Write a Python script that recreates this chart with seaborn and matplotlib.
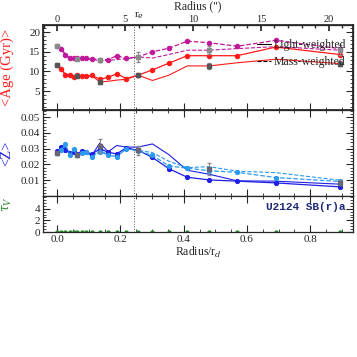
import numpy as np
import pandas as pd
import seaborn as sns
import matplotlib
matplotlib.use("Agg")
import matplotlib.pyplot as plt
from matplotlib.ticker import MultipleLocator, FixedLocator

# radial bins (r / r_d)
radius = [0.0, 0.013, 0.026, 0.039, 0.052, 0.064, 0.077, 0.090, 0.110, 0.135, 0.161,
          0.188, 0.218, 0.256, 0.301, 0.353, 0.411, 0.480, 0.569, 0.691, 0.893]

age_lw = [11.7, 10.7, 9.0, 9.2, 8.6, 9.0, 8.8, 8.8, 9.0, 8.0, 8.5,
          9.4, 8.2, 9.05, 10.4, 12.1, 14.0, 14.0, 14.0, 16.2, 14.3]
age_mw = [16.5, 15.8, 14.3, 13.4, 13.4, 13.4, 13.4, 13.4, 13.2, 13.0, 13.0,
          14.0, 13.3, 13.7, 15.0, 15.9, 17.7, 17.3, 16.4, 17.9, 15.8]
age_lw_alt = [11.7, 10.5, 9.3, 8.9, 8.8, 8.9, 8.7, 8.7, 8.9, 7.3, 7.5,
              7.8, 8.0, 9.05, 7.7, 9.05, 11.4, 11.4, 12.2, 13.1, 12.0]
age_mw_alt = [16.4, 15.6, 14.1, 13.3, 13.3, 13.2, 13.2, 13.2, 13.0, 12.8, 12.8,
              13.0, 13.2, 13.7, 13.4, 14.3, 15.4, 15.4, 15.8, 16.3, 15.4]

z_lw = [0.0283, 0.0308, 0.029, 0.0273, 0.028, 0.0269, 0.0283, 0.028, 0.0265, 0.030, 0.0277,
        0.0267, 0.0305, 0.029, 0.0244, 0.0173, 0.0119, 0.0102, 0.0094, 0.0083, 0.0058]
z_mw = [0.027, 0.029, 0.0327, 0.026, 0.0295, 0.026, 0.0275, 0.0278, 0.025, 0.028, 0.026,
        0.0248, 0.030, 0.0285, 0.0258, 0.019, 0.0177, 0.016, 0.015, 0.0117, 0.0092]
z_lw_alt = [0.028, 0.030, 0.031, 0.027, 0.028, 0.027, 0.028, 0.028, 0.026, 0.0336, 0.028,
            0.032, 0.031, 0.031, 0.033, 0.0262, 0.0163, 0.0138, 0.0096, 0.0094, 0.0075]
z_mw_alt = [0.027, 0.029, 0.031, 0.027, 0.029, 0.026, 0.028, 0.028, 0.025, 0.029, 0.026,
            0.025, 0.030, 0.029, 0.0275, 0.022, 0.018, 0.0186, 0.0157, 0.0148, 0.010]

tau_v = [0.0] * len(radius)

# points with error estimates
err_idx = [0, 5, 9, 13, 17, 20]
age_lw_err = [0.3, 0.3, 0.4, 0.4, 0.7, 0.6]
age_mw_err = [0.3, 0.3, 0.3, 1.3, 1.0, 1.2]
z_err_val = [0.027, 0.026, 0.0318, 0.029, 0.017, 0.0085]
z_err = [0.001, 0.001, 0.0043, 0.003, 0.004, 0.0015]

r_d_arcsec = 23.3
r_e = 0.244

df = pd.DataFrame({"r": radius, "age_lw": age_lw, "age_mw": age_mw,
                   "age_lw_alt": age_lw_alt, "age_mw_alt": age_mw_alt,
                   "z_lw": z_lw, "z_mw": z_mw, "z_lw_alt": z_lw_alt,
                   "z_mw_alt": z_mw_alt, "tau_v": tau_v})

sns.set_theme(style="ticks")
plt.rcParams['font.family'] = ['Liberation Serif', 'DejaVu Serif']
plt.rcParams['mathtext.fontset'] = 'dejavuserif'

RED = '#ff1a1a'
MAG = '#c0189a'
BLUE = '#1f1fe6'
LBLUE = '#2b9af0'
GREEN = '#2a8a2a'
GREY = '#8a8a8a'

fig = plt.figure(figsize=(3.57, 3.57), dpi=100)
left, width = 43 / 357, 310 / 357
ax1 = fig.add_axes([left, 1 - 110 / 357, width, 85 / 357])
ax2 = fig.add_axes([left, 1 - 196 / 357, width, 86 / 357])
ax3 = fig.add_axes([left, 1 - 232 / 357, width, 36 / 357])

# --- age panel
sns.lineplot(data=df, x="r", y="age_lw_alt", ax=ax1, color=RED, lw=0.8, errorbar=None)
sns.lineplot(data=df, x="r", y="age_mw_alt", ax=ax1, color=MAG, lw=0.8, ls='--', errorbar=None)
sns.lineplot(data=df, x="r", y="age_lw", ax=ax1, color=RED, lw=0.9, marker='o', ms=3.2,
             mec=RED, errorbar=None)
sns.lineplot(data=df, x="r", y="age_mw", ax=ax1, color=MAG, lw=0.9, ls='--', marker='o',
             ms=3.2, mec=MAG, errorbar=None)
r_err = [radius[i] for i in err_idx]
ax1.errorbar(r_err, [age_lw_alt[i] for i in err_idx], yerr=age_lw_err, fmt='s', ms=3,
             color='#555555', ecolor=GREY, capsize=1.5, lw=0.7)
ax1.errorbar(r_err, [age_mw_alt[i] for i in err_idx], yerr=age_mw_err, fmt='s', ms=3,
             color=GREY, ecolor=GREY, capsize=1.5, lw=0.7)
ax1.set_ylim(0.2, 21.8)
ax1.yaxis.set_major_locator(FixedLocator([5, 10, 15, 20]))
ax1.yaxis.set_minor_locator(MultipleLocator(1))
ax1.set_ylabel(r"<Age (Gyr)>", color=RED, fontsize=10.5)
ax1.plot([], [], color='black', lw=0.8, label='Light-weighted')
ax1.plot([], [], color='black', lw=0.8, ls='--', label='Mass-weighted')
ax1.legend(loc='upper right', frameon=False, fontsize=8.5, handlelength=1.2,
           handletextpad=0.2, borderaxespad=0.2, labelspacing=0.45,
           bbox_to_anchor=(1.0, 0.92))

# top arcsec axis
top = ax1.twiny()
arcsec_ticks = [0, 5, 10, 15, 20]
top.set_xticks([a / r_d_arcsec for a in arcsec_ticks])
top.set_xticklabels([str(a) for a in arcsec_ticks])
top.xaxis.set_minor_locator(MultipleLocator(1 / r_d_arcsec))
top.set_xlabel("Radius ('')", fontsize=8.5, va='bottom')
top.xaxis.set_label_coords(0.5, 1.15)
top.tick_params(axis='x', which='both', direction='in', labelsize=7.5, pad=1)
top.tick_params(axis='x', which='major', length=4)
top.tick_params(axis='x', which='minor', length=2)

# --- metallicity panel
sns.lineplot(data=df, x="r", y="z_lw_alt", ax=ax2, color=BLUE, lw=0.8, errorbar=None)
sns.lineplot(data=df, x="r", y="z_mw_alt", ax=ax2, color=LBLUE, lw=0.8, ls='--', errorbar=None)
sns.lineplot(data=df, x="r", y="z_lw", ax=ax2, color=BLUE, lw=0.9, marker='o', ms=3,
             mec=BLUE, errorbar=None)
sns.lineplot(data=df, x="r", y="z_mw", ax=ax2, color=LBLUE, lw=0.9, ls='--', marker='o',
             ms=3, mec=LBLUE, errorbar=None)
ax2.errorbar(r_err, z_err_val, yerr=z_err, fmt='s', ms=2.8, color='#666677',
             ecolor=GREY, capsize=1.5, lw=0.7)
ax2.set_ylim(0.0, 0.0545)
ax2.yaxis.set_major_locator(FixedLocator([0.01, 0.02, 0.03, 0.04, 0.05]))
ax2.yaxis.set_minor_locator(MultipleLocator(0.002))
ax2.set_ylabel("<Z>", color=BLUE, fontsize=10.5)

# --- extinction panel
sns.scatterplot(data=df, x="r", y="tau_v", ax=ax3, color=GREEN, s=10, edgecolor=GREEN,
                linewidth=0)
ax3.set_ylim(0, 6.2)
ax3.yaxis.set_major_locator(FixedLocator([0, 2, 4]))
ax3.yaxis.set_minor_locator(MultipleLocator(0.5))
ax3.set_ylabel(r"$\tau_V$", color=GREEN, fontsize=9)
ax3.yaxis.set_label_coords(-0.095, 0.78)
ax3.set_xlabel("Radius/r$_d$", fontsize=8.5, labelpad=1)
ax3.text(0.91, 4.3, "U2124 SB(r)a", color='#1e2a78', fontsize=8, ha='right',
         va='center', fontweight='bold', family=['Liberation Mono', 'DejaVu Sans Mono'])

for ax in (ax1, ax2, ax3):
    ax.set_xlim(-0.045, 0.935)
    ax.axvline(r_e, color='#555555', ls=':', lw=0.7)
    ax.xaxis.set_major_locator(MultipleLocator(0.2))
    ax.xaxis.set_minor_locator(MultipleLocator(0.05))
    ax.tick_params(which='both', direction='in', top=True, right=True, labelsize=8, pad=2)
    ax.tick_params(which='major', length=5, width=0.8)
    ax.tick_params(which='minor', length=2.5, width=0.6)
    for sp in ax.spines.values():
        sp.set_linewidth(0.9)
        sp.set_visible(True)
    if ax is not ax3:
        ax.set_xlabel("")
        ax.tick_params(labelbottom=False)
ax1.tick_params(top=False, which='both')
top.set_xlim(ax1.get_xlim())
for ax in (ax1, ax2):
    ax.yaxis.set_label_coords(-0.095, 0.5)

top.annotate("r$_e$", xy=(r_e, 1.0), xycoords=top.get_xaxis_transform(),
             xytext=(0, 3), textcoords='offset points', fontsize=8,
             ha='left', va='bottom')

fig.savefig("out.png", dpi=100)
